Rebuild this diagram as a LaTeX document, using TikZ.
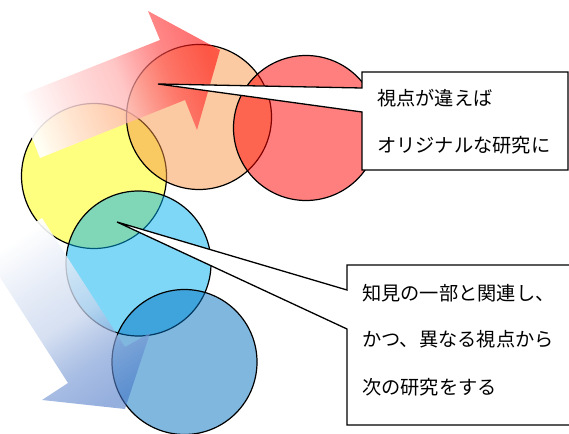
\documentclass[tikz,border=0pt]{standalone}
\usepackage{fontspec}
\newfontfamily\jp{Noto Sans CJK JP}
\usetikzlibrary{fadings}
\definecolor{cyel}{HTML}{FFFF00}
\definecolor{corg}{HTML}{F79646}
\definecolor{cred}{HTML}{FF0000}
\definecolor{clb}{HTML}{00B0F0}
\definecolor{cdb}{HTML}{0070C0}
\definecolor{arrblue}{HTML}{4472C4}
\pgfdeclarehorizontalshading{redgrad}{100bp}{color(0bp)=(white); color(31bp)=(white); color(50bp)=(red!30!white); color(59bp)=(red!70!white); color(68bp)=(red); color(100bp)=(red)}
\pgfdeclarehorizontalshading{bluegrad}{100bp}{color(0bp)=(white); color(31bp)=(white); color(50bp)=(arrblue!30!white); color(59bp)=(arrblue!70!white); color(68bp)=(arrblue); color(100bp)=(arrblue)}
\pgfdeclarehorizontalshading{arrfadeshade}{100bp}{color(0bp)=(white!92!black); color(30bp)=(white!92!black); color(70bp)=(white!55!black); color(100bp)=(white!55!black)}
\pgfdeclarefading{arrfade}{\pgfuseshading{arrfadeshade}}
\tikzset{
  circ/.style={circle, draw=black, line width=1.2bp, inner sep=0pt, minimum size=145bp, fill opacity=0.5},
  callout/.style={draw=black, fill=white, line width=1.3bp, line join=miter},
  txt/.style={anchor=west, inner sep=0pt, font=\jp\fontsize{19.3}{23}\selectfont, text=black}
}
\begin{document}
\begin{tikzpicture}[x=1bp, y=1bp]
\useasboundingbox (0,0) rectangle (569,-434);
\clip (0,0) rectangle (569,-434);
% circles
\node[circ, fill=cyel] (yel) at (94,-176) {};
\node[circ, fill=corg] (org) at (199,-117) {};
\node[circ, fill=cred] (red) at (306,-128) {};
\node[circ, fill=clb] (lb) at (138.5,-263.5) {};
\node[circ, fill=cdb] (db) at (184.5,-362) {};
% red arrow
\coordinate (ra1) at (40,-158);
\coordinate (ra2) at (185,-100);
\coordinate (ra3) at (197,-130);
\coordinate (ra4) at (220,-50);
\coordinate (ra5) at (148,-11);
\coordinate (ra6) at (160,-40);
\coordinate (ra7) at (16,-97);
\begin{scope}
\clip (ra1) -- (ra2) -- (ra3) -- (ra4) -- (ra5) -- (ra6) -- (ra7) -- cycle;
\shade[shading=redgrad, shading angle=22, path fading=arrfade, fading angle=22] (-6,-218.75) rectangle (254,41.25);
\end{scope}
% blue arrow
\coordinate (ba1) at (42,-218);
\coordinate (ba2) at (125,-347);
\coordinate (ba3) at (150,-333);
\coordinate (ba4) at (125,-409);
\coordinate (ba5) at (42,-400);
\coordinate (ba6) at (68,-383);
\coordinate (ba7) at (-15,-254);
\begin{scope}
\clip (ba1) -- (ba2) -- (ba3) -- (ba4) -- (ba5) -- (ba6) -- (ba7) -- cycle;
\shade[shading=bluegrad, shading angle=-57, path fading=arrfade, fading angle=-57] (-60.75,-452.5) rectangle (199.25,-192.5);
\end{scope}
% callout 1
\coordinate (p1) at (158,-84);
\path[callout] (362,-72) -- (568,-72) -- (568,-170) -- (362,-170) -- (362,-112) -- (p1) -- (362,-88) -- cycle;
\node[txt] (t1) at (377,-98) {視点が違えば};
\node[txt] (t2) at (377,-145) {オリジナルな研究に};
% callout 2
\coordinate (p2) at (117,-222);
\path[callout] (347,-265) -- (574,-265) -- (574,-425) -- (347,-425) -- (347,-329) -- (p2) -- (347,-290) -- cycle;
\node[txt] (t3) at (362,-293) {知見の一部と関連し、};
\node[txt] (t4) at (362,-339) {かつ、異なる視点から};
\node[txt] (t5) at (362,-387) {次の研究をする};
\end{tikzpicture}
\end{document}
